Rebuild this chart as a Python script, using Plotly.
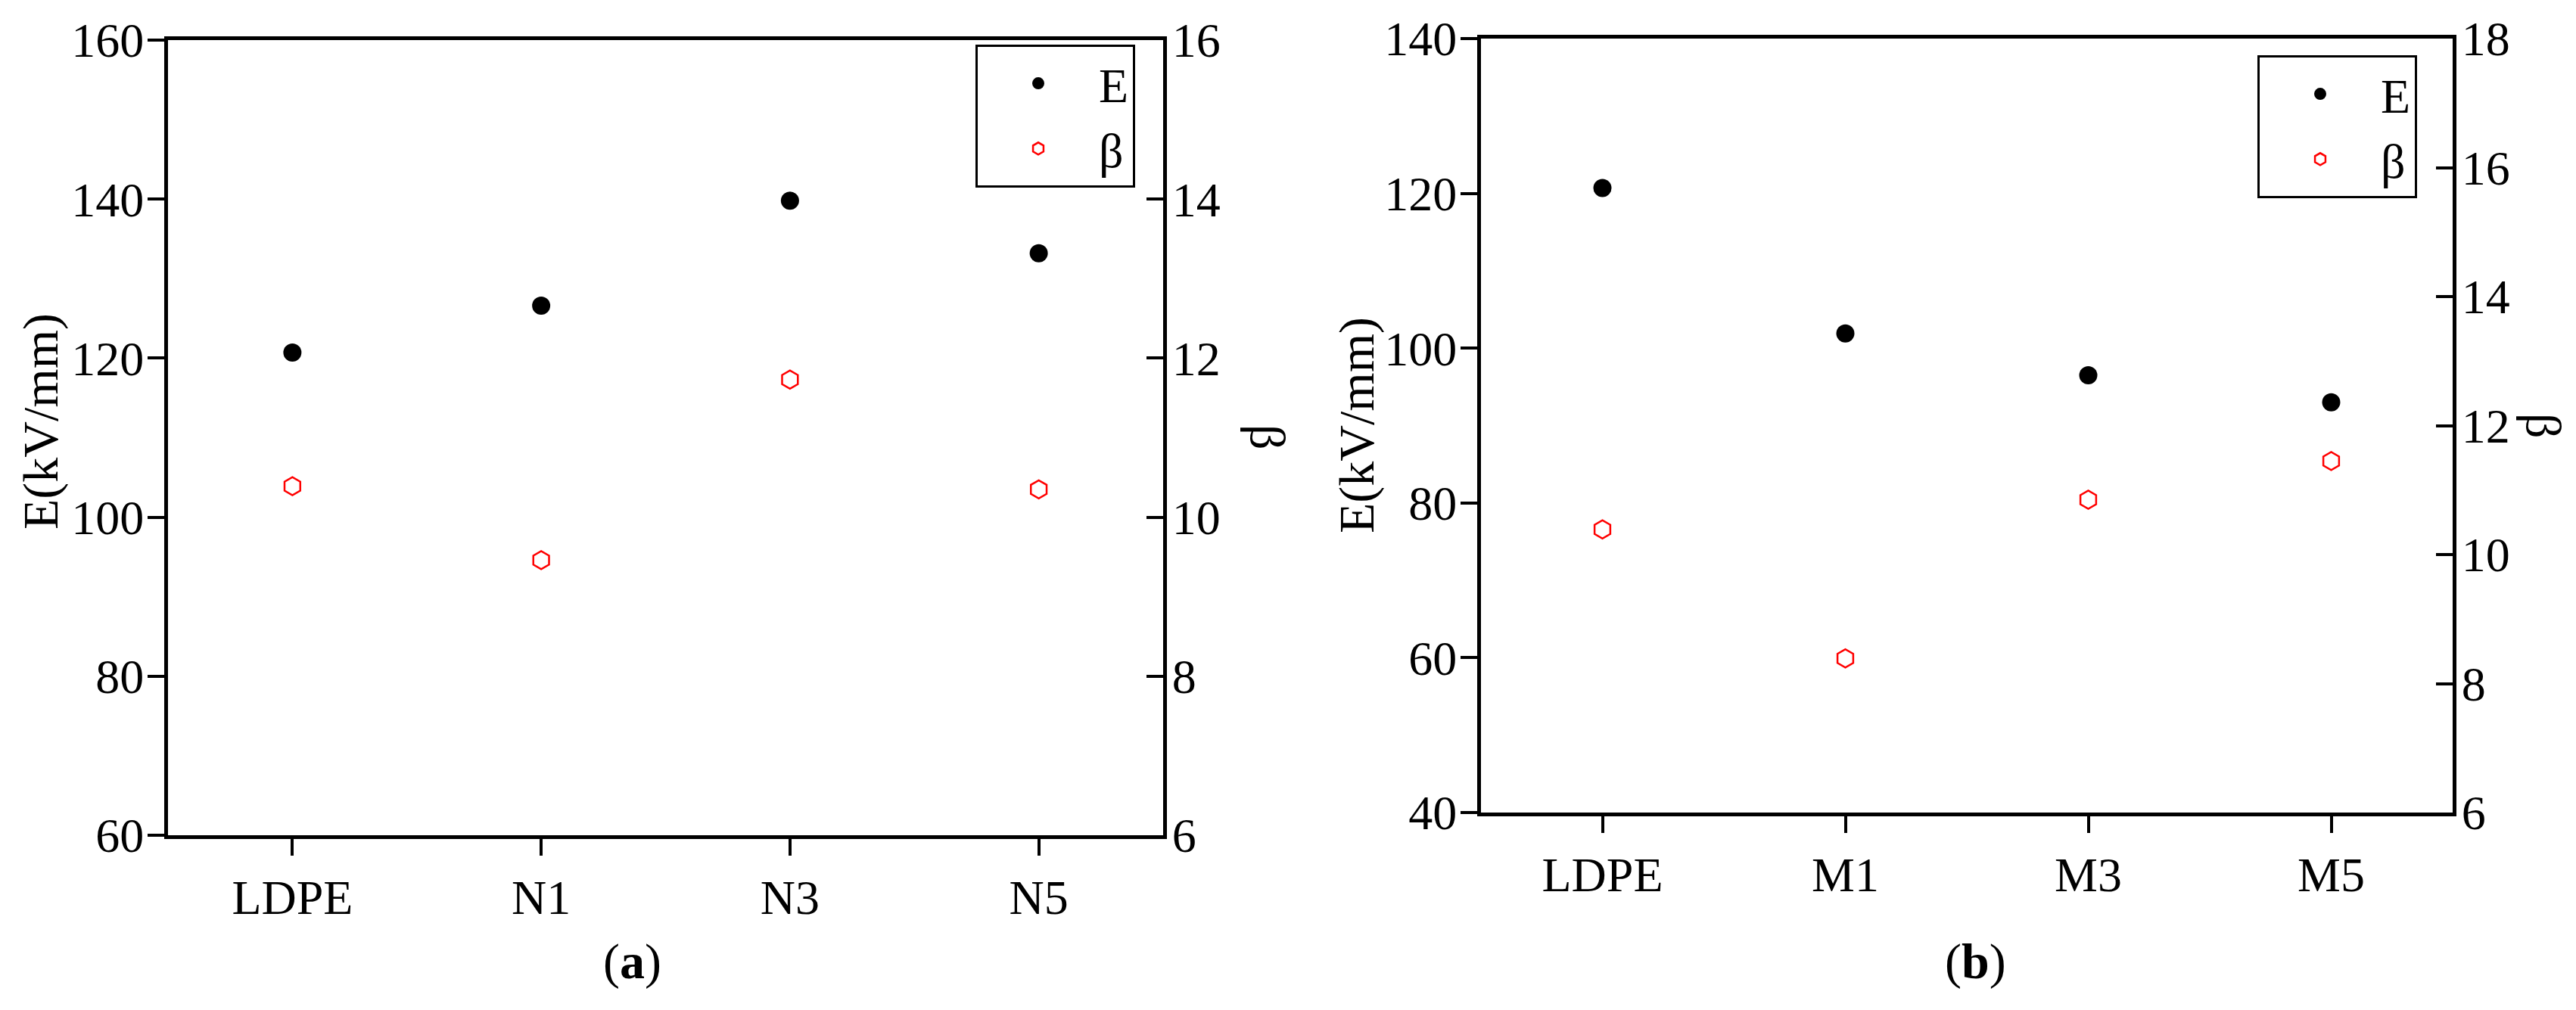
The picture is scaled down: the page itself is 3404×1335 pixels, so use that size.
import plotly.graph_objects as go

W, H = 3404, 1335
OFF = 8  # page body margin offset
FONT = "Liberation Serif"

categories_a = ["LDPE", "N1", "N3", "N5"]
E_a = [120.7, 126.6, 139.8, 133.2]
beta_a = [10.39, 9.46, 11.73, 10.35]

categories_b = ["LDPE", "M1", "M3", "M5"]
E_b = [120.7, 101.9, 96.5, 93.0]
beta_b = [10.39, 8.39, 10.85, 11.45]


def px(x):
    return (x - OFF) / W


def py(y):
    return 1 - (y - OFF) / H


fig = go.Figure()

for cats, E, beta, xa, ya_l, ya_r, leg in [
    (categories_a, E_a, beta_a, "x", "y", "y2", "legend"),
    (categories_b, E_b, beta_b, "x2", "y3", "y4", "legend2"),
]:
    fig.add_trace(go.Scatter(x=cats, y=E, mode="markers", name="E", xaxis=xa, yaxis=ya_l,
                             legend=leg, marker=dict(symbol="circle", size=24, color="black")))
    fig.add_trace(go.Scatter(x=cats, y=beta, mode="markers", name="β", xaxis=xa, yaxis=ya_r,
                             legend=leg, marker=dict(symbol="hexagon-open", size=24, color="red",
                                                     line=dict(width=2.5, color="red"))))

ax = dict(showline=True, linecolor="black", linewidth=5, showgrid=False, zeroline=False,
          tickcolor="black", tickwidth=4, ticklen=22, automargin=False,
          tickfont=dict(family=FONT, size=64, color="black"))

fig.update_layout(
    width=W, height=H, margin=dict(l=0, r=0, t=0, b=0, autoexpand=False),
    paper_bgcolor="white", plot_bgcolor="white",
    font=dict(family=FONT, size=60, color="black"),
    xaxis=dict(ax, domain=[px(222), px(1537)], range=[-0.5, 3.5], ticks="outside",
               mirror=True, anchor="y", type="category"),
    yaxis=dict(ax, domain=[py(1104), py(53)], range=[60, 160], dtick=20, ticks="outside",
               anchor="x", ticklabelstandoff=-8),
    yaxis2=dict(ax, domain=[py(1104), py(53)], range=[6, 16], dtick=2, ticks="inside",
                overlaying="y", side="right", anchor="x", ticklabelstandoff=-6),
    xaxis2=dict(ax, domain=[px(1957), px(3241)], range=[-0.5, 3.5], ticks="outside",
                mirror=True, anchor="y3", type="category"),
    yaxis3=dict(ax, domain=[py(1074), py(51)], range=[40, 140], dtick=20, ticks="outside",
                anchor="x2", ticklabelstandoff=-8),
    yaxis4=dict(ax, domain=[py(1074), py(51)], range=[6, 18], dtick=2, ticks="inside",
                overlaying="y3", side="right", anchor="x2", ticklabelstandoff=-6),
    legend=dict(x=px(1289), y=py(59), xanchor="left", yanchor="top", bordercolor="black",
                borderwidth=3, bgcolor="white", itemwidth=150,
                font=dict(family=FONT, size=64, color="black")),
    legend2=dict(x=px(2983), y=py(73), xanchor="left", yanchor="top", bordercolor="black",
                 borderwidth=3, bgcolor="white", itemwidth=150,
                 font=dict(family=FONT, size=64, color="black")),
)

annots = [
    ("E(kV/mm)", 54, 557, -90),
    ("E(kV/mm)", 1793, 562, -90),
    ("β", 1675, 578, 90),
    ("β", 3362, 563, 90),
    ("(<b>a</b>)", 835, 1271, 0),
    ("(<b>b</b>)", 2610, 1271, 0),
]
for text, x, y, ang in annots:
    fig.add_annotation(text=text, x=px(x), y=py(y), xref="paper", yref="paper",
                       xanchor="center", yanchor="middle", textangle=ang, showarrow=False,
                       font=dict(family=FONT, size=66, color="black"))

fig.write_html("out.html")
